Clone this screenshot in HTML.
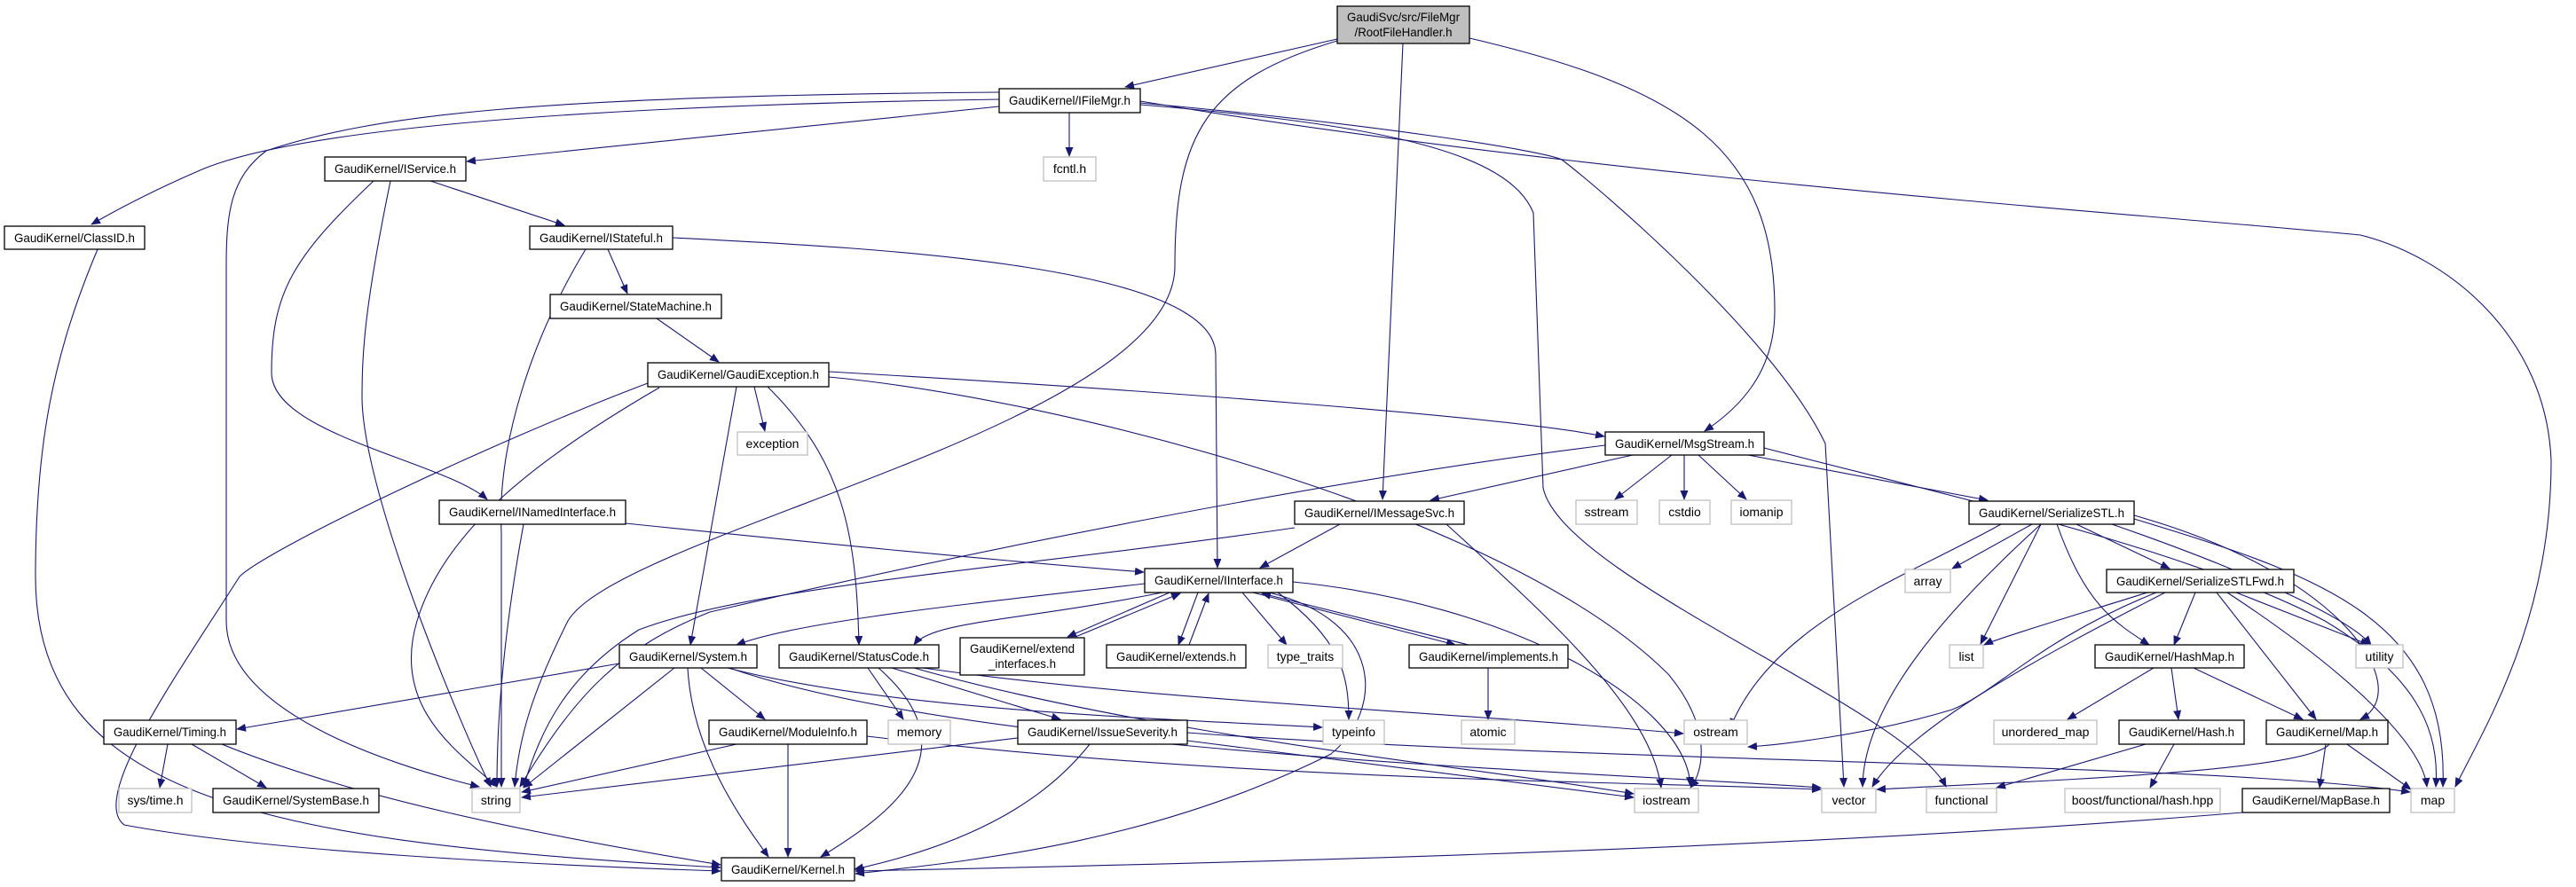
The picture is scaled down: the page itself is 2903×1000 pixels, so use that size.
<!DOCTYPE html>
<html><head><meta charset="utf-8"><style>
html,body{margin:0;padding:0;background:#fff;}
svg{display:block;}
text{font-family:"Liberation Sans",Arial,sans-serif;font-size:14px;fill:#000;}
.n{fill:#fff;stroke:#000;stroke-width:1.3;}
.g{fill:#fff;stroke:#bfbfbf;stroke-width:1.3;}
.e{fill:none;stroke:#191970;stroke-width:1.1;}
</style></head><body>
<svg width="2903" height="1000" viewBox="0 0 2903 1000" xmlns="http://www.w3.org/2000/svg">
<defs>
<marker id="a" markerUnits="userSpaceOnUse" markerWidth="11" markerHeight="9" refX="10" refY="4.5" orient="auto">
<path d="M0,0 L11,4.5 L0,9 z" fill="#191970"/>
</marker>
</defs>
<g marker-end="url(#a)">
<path class="e" d="M1507,44 L1268,98"/>
<path class="e" d="M1507,46 C1360,90 1324,150 1324,300 C1324,480 700,600 640,700 C600,780 585,830 580,887"/>
<path class="e" d="M1581,49 L1558,563"/>
<path class="e" d="M1656,43 C1900,100 2000,170 2000,350 C2000,420 1960,460 1921,486"/>
<path class="e" d="M1126,112 C600,120 330,150 230,190 Q160,220 103,253"/>
<path class="e" d="M1126,120 L526,182"/>
<path class="e" d="M1126,104 C600,108 420,130 300,170 C260,200 255,240 255,300 L255,700 C255,800 430,860 540,887"/>
<path class="e" d="M1205,127 L1205,176"/>
<path class="e" d="M1285,118 C1550,140 1700,170 1728,240 L1739,550 C1760,650 2150,800 2193,887"/>
<path class="e" d="M1285,116 C1550,140 1740,170 1760,180 C1800,210 2000,380 2057,500 L2078,887"/>
<path class="e" d="M1285,114 C1800,200 2400,240 2660,265 C2760,290 2870,380 2875,520 C2875,700 2800,820 2767,887"/>
<path class="e" d="M485,204 L636,254"/>
<path class="e" d="M421,204 C330,290 306,330 306,420 C306,490 500,520 549,563"/>
<path class="e" d="M440,204 C410,350 408,400 408,450 C410,560 520,820 553,887"/>
<path class="e" d="M685,281 L707,331"/>
<path class="e" d="M660,281 C600,380 560,500 565,600 L565,887"/>
<path class="e" d="M758,268 C1000,280 1370,300 1370,400 L1372,640"/>
<path class="e" d="M740,359 L810,408"/>
<path class="e" d="M934,419 C1300,440 1700,470 1808,492"/>
<path class="e" d="M850,436 L862,486"/>
<path class="e" d="M830,436 L778,727"/>
<path class="e" d="M865,436 C950,520 965,600 968,727"/>
<path class="e" d="M730,432 C550,500 300,620 270,650 C200,760 100,900 140,930 C300,960 600,975 812,982"/>
<path class="e" d="M743,437 C600,520 500,600 470,700 C440,800 520,850 560,887"/>
<path class="e" d="M934,425 C1200,450 1700,580 1880,760 C1930,820 1920,870 1905,888"/>
<path class="e" d="M1840,513 L1612,564"/>
<path class="e" d="M1884,513 L1820,563"/>
<path class="e" d="M1898,513 L1898,563"/>
<path class="e" d="M1914,513 L1968,563"/>
<path class="e" d="M1970,513 L2240,564"/>
<path class="e" d="M1809,502 C1500,540 1100,620 800,690 C700,730 650,780 586,887"/>
<path class="e" d="M1988,505 C2200,560 2470,620 2620,700 C2720,760 2750,820 2745,887"/>
<path class="e" d="M1510,591 L1420,640"/>
<path class="e" d="M1459,595 C1150,640 850,660 720,710 C640,760 610,820 590,887"/>
<path class="e" d="M1630,591 C1750,700 1860,800 1872,888"/>
<path class="e" d="M705,590 C900,610 1100,630 1289,645"/>
<path class="e" d="M590,591 C570,700 560,800 560,887"/>
<path class="e" d="M1290,658 C1100,680 900,700 830,727"/>
<path class="e" d="M1310,668 C1150,700 1050,700 1030,727"/>
<path class="e" d="M1318,668 L1203,718"/>
<path class="e" d="M1212,718 L1330,669"/>
<path class="e" d="M1350,668 L1328,727"/>
<path class="e" d="M1340,727 L1362,669"/>
<path class="e" d="M1400,668 L1450,727"/>
<path class="e" d="M1412,668 L1640,727"/>
<path class="e" d="M1655,727 L1422,669"/>
<path class="e" d="M1440,668 C1510,720 1520,760 1520,811"/>
<path class="e" d="M1457,656 C1700,680 1900,790 1905,886"/>
<path class="e" d="M1430,668 C1560,700 1560,800 1500,850 C1300,950 1100,970 964,985"/>
<path class="e" d="M698,748 L267,822"/>
<path class="e" d="M790,753 L862,811"/>
<path class="e" d="M760,753 L590,888"/>
<path class="e" d="M775,753 C780,850 840,930 866,966"/>
<path class="e" d="M820,753 C1000,800 1300,810 1490,820"/>
<path class="e" d="M822,753 C1100,850 1800,870 2052,888"/>
<path class="e" d="M978,753 L1018,811"/>
<path class="e" d="M1005,753 L1195,811"/>
<path class="e" d="M990,753 C1100,850 1000,920 925,966"/>
<path class="e" d="M1040,753 C1300,790 1600,800 1897,827"/>
<path class="e" d="M1030,753 C1300,830 1700,870 1841,895"/>
<path class="e" d="M830,839 L588,893"/>
<path class="e" d="M888,839 L888,966"/>
<path class="e" d="M977,830 C1400,880 1800,880 2052,890"/>
<path class="e" d="M1147,832 L588,899"/>
<path class="e" d="M1228,839 C1180,900 1100,950 963,980"/>
<path class="e" d="M1338,826 C1800,860 2500,860 2716,893"/>
<path class="e" d="M1338,835 L1841,899"/>
<path class="e" d="M189,839 L180,888"/>
<path class="e" d="M216,839 L300,888"/>
<path class="e" d="M250,839 C400,900 600,940 812,975"/>
<path class="e" d="M110,281 C60,400 40,500 40,650 C40,900 300,950 812,978"/>
<path class="e" d="M1677,753 L1677,811"/>
<path class="e" d="M2290,591 L2200,641"/>
<path class="e" d="M2340,591 L2445,641"/>
<path class="e" d="M2300,591 L2232,726"/>
<path class="e" d="M2318,591 C2350,680 2380,700 2422,727"/>
<path class="e" d="M2380,591 C2550,650 2650,700 2672,727"/>
<path class="e" d="M2405,581 C2650,650 2720,780 2660,811"/>
<path class="e" d="M2405,585 C2620,650 2760,700 2753,887"/>
<path class="e" d="M2300,591 C2180,700 2100,800 2099,887"/>
<path class="e" d="M2255,591 C2150,650 2000,700 1950,820"/>
<path class="e" d="M2420,668 C2350,690 2250,720 2236,727"/>
<path class="e" d="M2474,668 L2450,727"/>
<path class="e" d="M2498,668 L2610,811"/>
<path class="e" d="M2510,668 C2650,760 2730,840 2735,887"/>
<path class="e" d="M2520,668 L2670,727"/>
<path class="e" d="M2440,668 C2300,740 2150,820 2110,887"/>
<path class="e" d="M2430,668 C2300,720 2250,780 2200,800 C2100,830 2000,840 1970,842"/>
<path class="e" d="M2427,753 L2330,811"/>
<path class="e" d="M2447,753 L2455,811"/>
<path class="e" d="M2472,753 L2595,811"/>
<path class="e" d="M2418,839 L2250,888"/>
<path class="e" d="M2450,839 L2423,888"/>
<path class="e" d="M2621,839 L2614,888"/>
<path class="e" d="M2645,839 L2717,890"/>
<path class="e" d="M2625,839 C2600,870 2300,880 2115,890"/>
<path class="e" d="M2527,916 C2000,960 1300,975 964,982"/>
</g>

<!-- nodes -->
<rect x="1507" y="7" width="149" height="42" fill="#bfbfbf" stroke="#000" stroke-width="1.3"/>
<text x="1581.5" y="24" text-anchor="middle" textLength="127" lengthAdjust="spacingAndGlyphs">GaudiSvc/src/FileMgr</text>
<text x="1581.5" y="41" text-anchor="middle" textLength="110" lengthAdjust="spacingAndGlyphs">/RootFileHandler.h</text>

<g text-anchor="middle" lengthAdjust="spacingAndGlyphs">
<rect class="n" x="1126" y="100" width="159" height="27"/><text x="1205.5" y="118" textLength="137" lengthAdjust="spacingAndGlyphs">GaudiKernel/IFileMgr.h</text>
<rect class="g" x="1176" y="177" width="59" height="27"/><text x="1205.5" y="195">fcntl.h</text>
<rect class="n" x="366" y="177" width="159" height="27"/><text x="445.5" y="195" textLength="137" lengthAdjust="spacingAndGlyphs">GaudiKernel/IService.h</text>
<rect class="n" x="5" y="255" width="158" height="26"/><text x="84" y="273" textLength="136" lengthAdjust="spacingAndGlyphs">GaudiKernel/ClassID.h</text>
<rect class="n" x="597" y="255" width="161" height="26"/><text x="677.5" y="273" textLength="139" lengthAdjust="spacingAndGlyphs">GaudiKernel/IStateful.h</text>
<rect class="n" x="620" y="332" width="193" height="27"/><text x="716.5" y="350" textLength="171" lengthAdjust="spacingAndGlyphs">GaudiKernel/StateMachine.h</text>
<rect class="n" x="730" y="409" width="204" height="27"/><text x="832" y="427" textLength="182" lengthAdjust="spacingAndGlyphs">GaudiKernel/GaudiException.h</text>
<rect class="g" x="831" y="487" width="79" height="26"/><text x="870.5" y="505">exception</text>
<rect class="n" x="1809" y="487" width="179" height="26"/><text x="1898.5" y="505" textLength="157" lengthAdjust="spacingAndGlyphs">GaudiKernel/MsgStream.h</text>
<rect class="g" x="1776" y="564" width="69" height="27"/><text x="1810.5" y="582">sstream</text>
<rect class="g" x="1870" y="564" width="57" height="27"/><text x="1898.5" y="582">cstdio</text>
<rect class="g" x="1951" y="564" width="68" height="27"/><text x="1985" y="582">iomanip</text>
<rect class="n" x="495" y="564" width="210" height="27"/><text x="600" y="582" textLength="188" lengthAdjust="spacingAndGlyphs">GaudiKernel/INamedInterface.h</text>
<rect class="n" x="1459" y="565" width="191" height="26"/><text x="1554.5" y="583" textLength="169" lengthAdjust="spacingAndGlyphs">GaudiKernel/IMessageSvc.h</text>
<rect class="n" x="2219" y="565" width="186" height="26"/><text x="2312" y="583" textLength="164" lengthAdjust="spacingAndGlyphs">GaudiKernel/SerializeSTL.h</text>
<rect class="g" x="2147" y="642" width="51" height="26"/><text x="2172.5" y="660">array</text>
<rect class="n" x="2374" y="642" width="211" height="26"/><text x="2479.5" y="660" textLength="189" lengthAdjust="spacingAndGlyphs">GaudiKernel/SerializeSTLFwd.h</text>
<rect class="n" x="1290" y="641" width="167" height="27"/><text x="1373.5" y="659" textLength="145" lengthAdjust="spacingAndGlyphs">GaudiKernel/IInterface.h</text>
<rect class="n" x="698" y="727" width="155" height="26"/><text x="775.5" y="745" textLength="133" lengthAdjust="spacingAndGlyphs">GaudiKernel/System.h</text>
<rect class="n" x="878" y="727" width="180" height="26"/><text x="968" y="745" textLength="158" lengthAdjust="spacingAndGlyphs">GaudiKernel/StatusCode.h</text>
<rect class="n" x="1082" y="719" width="140" height="42"/><text x="1152" y="736" textLength="118" lengthAdjust="spacingAndGlyphs">GaudiKernel/extend</text><text x="1152" y="753" textLength="76" lengthAdjust="spacingAndGlyphs">_interfaces.h</text>
<rect class="n" x="1247" y="727" width="157" height="26"/><text x="1325.5" y="745" textLength="135" lengthAdjust="spacingAndGlyphs">GaudiKernel/extends.h</text>
<rect class="g" x="1429" y="727" width="84" height="26"/><text x="1471" y="745">type_traits</text>
<rect class="n" x="1588" y="727" width="179" height="26"/><text x="1677.5" y="745" textLength="157" lengthAdjust="spacingAndGlyphs">GaudiKernel/implements.h</text>
<rect class="g" x="2197" y="727" width="38" height="26"/><text x="2216" y="745">list</text>
<rect class="n" x="2361" y="727" width="168" height="26"/><text x="2445" y="745" textLength="146" lengthAdjust="spacingAndGlyphs">GaudiKernel/HashMap.h</text>
<rect class="g" x="2655" y="727" width="53" height="26"/><text x="2681.5" y="745">utility</text>
<rect class="n" x="117" y="812" width="149" height="27"/><text x="191.5" y="830" textLength="127" lengthAdjust="spacingAndGlyphs">GaudiKernel/Timing.h</text>
<rect class="n" x="799" y="812" width="178" height="27"/><text x="888" y="830" textLength="156" lengthAdjust="spacingAndGlyphs">GaudiKernel/ModuleInfo.h</text>
<rect class="g" x="1001" y="812" width="70" height="27"/><text x="1036" y="830">memory</text>
<rect class="n" x="1147" y="812" width="191" height="27"/><text x="1242.5" y="830" textLength="169" lengthAdjust="spacingAndGlyphs">GaudiKernel/IssueSeverity.h</text>
<rect class="g" x="1491" y="812" width="69" height="27"/><text x="1525.5" y="830">typeinfo</text>
<rect class="g" x="1647" y="812" width="60" height="27"/><text x="1677" y="830">atomic</text>
<rect class="g" x="1898" y="812" width="71" height="27"/><text x="1933.5" y="830">ostream</text>
<rect class="g" x="2247" y="812" width="116" height="27"/><text x="2305" y="830">unordered_map</text>
<rect class="n" x="2388" y="812" width="141" height="27"/><text x="2458.5" y="830" textLength="119" lengthAdjust="spacingAndGlyphs">GaudiKernel/Hash.h</text>
<rect class="n" x="2554" y="812" width="137" height="27"/><text x="2622.5" y="830" textLength="115" lengthAdjust="spacingAndGlyphs">GaudiKernel/Map.h</text>
<rect class="g" x="134" y="889" width="82" height="27"/><text x="175" y="907">sys/time.h</text>
<rect class="n" x="240" y="889" width="187" height="27"/><text x="333.5" y="907" textLength="165" lengthAdjust="spacingAndGlyphs">GaudiKernel/SystemBase.h</text>
<rect class="g" x="532" y="889" width="54" height="27"/><text x="559" y="907">string</text>
<rect class="g" x="1842" y="889" width="72" height="27"/><text x="1878" y="907">iostream</text>
<rect class="g" x="2053" y="889" width="61" height="27"/><text x="2083.5" y="907">vector</text>
<rect class="g" x="2171" y="889" width="79" height="27"/><text x="2210.5" y="907">functional</text>
<rect class="g" x="2327" y="889" width="175" height="27"/><text x="2414.5" y="907">boost/functional/hash.hpp</text>
<rect class="n" x="2527" y="889" width="166" height="27"/><text x="2610" y="907" textLength="144" lengthAdjust="spacingAndGlyphs">GaudiKernel/MapBase.h</text>
<rect class="g" x="2717" y="889" width="49" height="27"/><text x="2741.5" y="907">map</text>
<rect class="n" x="813" y="967" width="150" height="26"/><text x="888" y="985" textLength="128" lengthAdjust="spacingAndGlyphs">GaudiKernel/Kernel.h</text>
</g>
</svg>
</body></html>
